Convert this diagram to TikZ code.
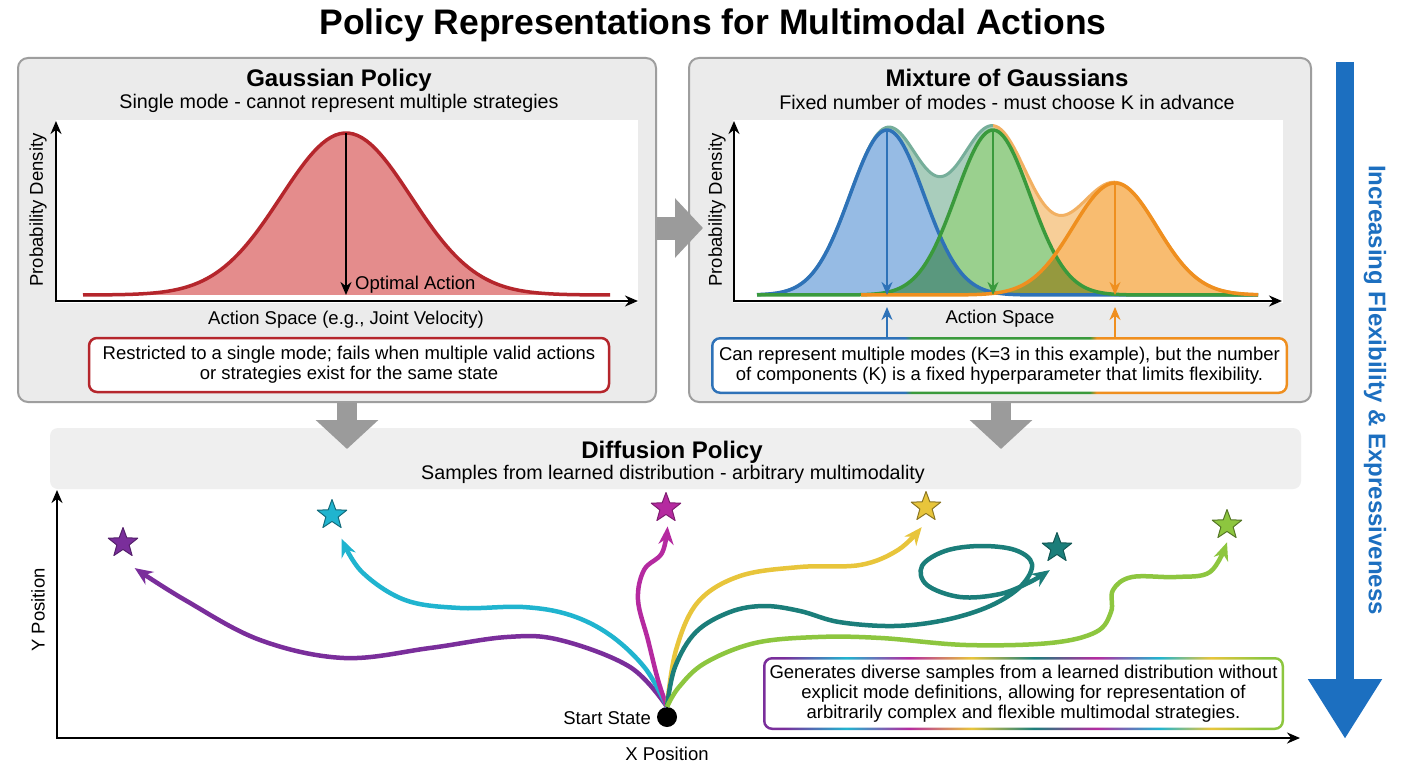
\documentclass[tikz,border=0pt]{standalone}
\usepackage{fontspec}
\setmainfont{Liberation Sans}
\usetikzlibrary{arrows.meta,shapes.geometric}
\definecolor{panelfill}{HTML}{EBEBEB}
\definecolor{panelline}{HTML}{9E9E9E}
\definecolor{bannerfill}{HTML}{EFEFEF}
\definecolor{blockgray}{HTML}{9B9B9B}
\definecolor{cred}{HTML}{B5262C}
\definecolor{credfill}{HTML}{E48C8C}
\definecolor{cblue}{HTML}{2E72B8}
\definecolor{cbluefill}{HTML}{96BBE4}
\definecolor{cgreen}{HTML}{3A9A3C}
\definecolor{cgreenfill}{HTML}{9AD08E}
\definecolor{corange}{HTML}{EF8F1F}
\definecolor{corangefill}{HTML}{F8BC70}
\definecolor{envteal}{HTML}{A9CDBC}
\definecolor{envorange}{HTML}{F7CE98}
\definecolor{envtealline}{HTML}{76AE9A}
\definecolor{envorangeline}{HTML}{F2B062}
\definecolor{cflow}{HTML}{1C6FC0}
\definecolor{cpurple}{HTML}{7A2E9B}
\definecolor{ccyan}{HTML}{20B4CF}
\definecolor{cmagenta}{HTML}{B52AA0}
\definecolor{cyellow}{HTML}{E8C53B}
\definecolor{cteal}{HTML}{1B7E7A}
\definecolor{clime}{HTML}{8DC63F}
\pgfdeclarehorizontalshading{mogedge}{100bp}{color(0bp)=(cblue); color(41.8bp)=(cblue); color(42.4bp)=(cgreen); color(57.8bp)=(cgreen); color(58.4bp)=(corange); color(100bp)=(corange)}
\pgfdeclarehorizontalshading{envband}{100bp}{color(0bp)=(envteal); color(48.3bp)=(envteal); color(48.8bp)=(envorange); color(100bp)=(envorange)}
\pgfdeclarehorizontalshading{rainbowedge}{100bp}{color(0bp)=(cpurple); color(27bp)=(cpurple); color(33bp)=(ccyan); color(39bp)=(cmagenta); color(45bp)=(cyellow); color(51bp)=(cteal); color(57bp)=(cmagenta); color(63bp)=(ccyan); color(68bp)=(cyellow); color(73bp)=(clime); color(100bp)=(clime)}
\begin{document}
\begin{tikzpicture}[x=1pt,y=-1pt,line join=round,>=Stealth,
  declare function={gr(\x)=162*exp(-min(((\x-346)/65)^2/2,9));
    gb(\x)=165*exp(-min(((\x-887)/37)^2/2,9));
    gg(\x)=165*exp(-min(((\x-993)/37)^2/2,9));
    go(\x)=112*exp(-min(((\x-1115)/42)^2/2,9));},
  panel/.style={draw=panelline,line width=2,fill=panelfill,rounded corners=10,minimum height=344},
  ttl/.style={font=\fontsize{35.5}{40}\selectfont\bfseries},
  head/.style={font=\fontsize{24}{28}\selectfont\bfseries},
  sub/.style={font=\fontsize{19.7}{23}\selectfont},
  lab/.style={font=\fontsize{18.5}{20}\selectfont,inner sep=0},
  note/.style={font=\fontsize{18.5}{20}\selectfont,align=center,inner sep=0},
  axis/.style={line width=2.5,-{Stealth[length=13pt,width=11pt]}},
  modearrow/.style={line width=2,-{Stealth[length=13pt,width=11pt]}},
  block/.style={blockgray,line width=20,-{Triangle[width=61pt,length=29pt]}},
  traj/.style={line width=4.5,-{Stealth[length=18pt,width=15pt]}},
  goal/.style={star,star points=5,star point ratio=2.4,minimum size=31,inner sep=0,outer sep=9,line width=1}]
\useasboundingbox (0,0) rectangle (1408,768);
\fill[white] (0,0) rectangle (1408,768);
\node[ttl] (title) at (713,25) {Policy Representations for Multimodal Actions};
\node[panel,minimum width=638] (gauss) at (337,230) {};
\node[panel,minimum width=622] (mog) at (1000,230) {};
\node[head] (gausshead) at (339,80) {Gaussian Policy};
\node[sub] (gausssub) at (339,103) {Single mode - cannot represent multiple strategies};
\node[head] (moghead) at (1007,78) {Mixture of Gaussians};
\node[sub] (mogsub) at (1007,102) {Fixed number of modes - must choose K in advance};
% single gaussian
\fill[white] (56,120) rectangle (638,303);
\fill[credfill] plot[domain=83:610,samples=120] (\x,{295-gr(\x)}) -- cycle;
\draw[cred,line width=3.5] plot[domain=83:610,samples=120] (\x,{295-gr(\x)});
\draw[modearrow] (346,133) -- (346,295);
\node[lab,anchor=west] (optlab) at (355,285) {Optimal Action};
\draw[axis] (56,302) -- (56,121);
\draw[axis] (55,301) -- (638,301);
\node[lab,rotate=90] (gaussy) at (38,210) {Probability Density};
\node[lab] (gaussx) at (346,320) {Action Space (e.g., Joint Velocity)};
\node[note,draw=cred,line width=2.5,fill=white,rounded corners=8,minimum width=520,minimum height=54] (gaussnote) at (349,365) {Restricted to a single mode; fails when multiple valid actions\\or strategies exist for the same state};
% mixture
\fill[white] (733,120) rectangle (1283,303);
\shade[shading=envband] plot[domain=757:1258,samples=200] (\x,{295-gb(\x)-gg(\x)-go(\x)}) -- plot[domain=1258:757,samples=200] (\x,{295-max(gb(\x),gg(\x),go(\x))}) -- cycle;
\begin{scope}
\clip (740,110) rectangle (993,300);
\draw[envtealline,line width=3] plot[domain=757:1258,samples=200] (\x,{295-gb(\x)-gg(\x)-go(\x)});
\end{scope}
\begin{scope}
\clip (993,110) rectangle (1270,300);
\draw[envorangeline,line width=3] plot[domain=757:1258,samples=200] (\x,{295-gb(\x)-gg(\x)-go(\x)});
\end{scope}
\begin{scope}[blend mode=multiply]
\fill[cbluefill] plot[domain=757:1258,samples=200] (\x,{295-gb(\x)}) -- cycle;
\fill[cgreenfill] plot[domain=757:1258,samples=200] (\x,{295-gg(\x)}) -- cycle;
\fill[corangefill] plot[domain=861:1258,samples=200] (\x,{295-go(\x)}) -- cycle;
\end{scope}
\draw[cblue,line width=3.5] plot[domain=757:1258,samples=200] (\x,{295-gb(\x)});
\draw[cgreen,line width=3.5] plot[domain=757:1258,samples=200] (\x,{295-gg(\x)});
\draw[corange,line width=3.5] plot[domain=861:1258,samples=200] (\x,{295-go(\x)});
\draw[modearrow,cblue] (887,131) -- (887,295);
\draw[modearrow,cgreen] (993,131) -- (993,295);
\draw[modearrow,corange] (1115,184) -- (1115,295);
\draw[axis] (734,302) -- (734,121);
\draw[axis] (733,301) -- (1282,301);
\node[lab,rotate=90] (mogy) at (717,210) {Probability Density};
\node[lab] (mogx) at (1000,319) {Action Space};
\shade[shading=mogedge,rounded corners=9] (711,337) rectangle (1288,394);
\fill[white,rounded corners=7] (713.5,339.5) rectangle (1285.5,391.5);
\node[note,minimum width=577,minimum height=57] (mognote) at (999.5,365.5) {Can represent multiple modes (K=3 in this example), but the number\\of components (K) is a fixed hyperparameter that limits flexibility.};
\coordinate (bluemode) at (887,307);
\coordinate (orangemode) at (1115,307);
\draw[modearrow,cblue] (mognote.north -| bluemode) -- (bluemode);
\draw[modearrow,corange] (mognote.north -| orangemode) -- (orangemode);
% diffusion
\node[fill=bannerfill,rounded corners=8,minimum width=1251,minimum height=61] (diff) at (675.5,458.5) {};
\node[head] (diffhead) at (672,452) {Diffusion Policy};
\node[sub] (diffsub) at (673,474) {Samples from learned distribution - arbitrary multimodality};
\coordinate (nextR) at (703,228);
\coordinate (downL) at (347,449);
\coordinate (downR) at (1001,449);
\draw[block,line width=23,-{Triangle[width=58pt,length=28pt]}] (gauss.east |- nextR) -- (nextR);
\draw[block] (gauss.south -| downL) -- (downL);
\draw[block] (mog.south -| downR) -- (downR);
\draw[axis] (57,739) -- (57,490);
\draw[axis] (56,738) -- (1300,738);
\node[lab,rotate=90] (ylab) at (38,610) {Y Position};
\node[lab] (xlab) at (667,754) {X Position};
\node[circle,fill=black,minimum size=20,inner sep=0] (start) at (667,717) {};
\node[lab,anchor=east] (startlab) at (651,718) {Start State};
\node[goal,fill=cpurple,draw=cpurple!70!black] (gpurple) at (123,543) {};
\node[goal,fill=ccyan,draw=ccyan!60!black] (gcyan) at (332,515) {};
\node[goal,fill=cmagenta,draw=cmagenta!70!black] (gmagenta) at (666,508) {};
\node[goal,fill=cyellow,draw=cyellow!60!black] (gyellow) at (926,507) {};
\node[goal,fill=cteal,draw=cteal!70!black] (gteal) at (1057,548) {};
\node[goal,fill=clime,draw=clime!60!black] (glime) at (1227,525) {};
\draw[traj,cpurple] plot[smooth,tension=0.6] coordinates {(start.north) (630,667) (560,640) (507,637) (430,648) (344,658) (260,640) (185,600) (gpurple.295)};
\draw[traj,ccyan] plot[smooth,tension=0.6] coordinates {(start.north) (645,668) (610,635) (570,615) (523,607) (460,608) (405,600) (362,572) (gcyan.292)};
\draw[traj,cmagenta] plot[smooth,tension=0.6] coordinates {(start.north) (658,680) (648,640) (638,600) (644,570) (662,553) (gmagenta.275)};
\draw[traj,cyellow] plot[smooth,tension=0.6] coordinates {(start.north) (676,650) (698,602) (740,576) (800,567) (860,565) (898,550) (gyellow.258)};
\draw[traj,cteal] plot[smooth,tension=0.6] coordinates {(start.north) (675,667) (696,632) (730,612) (764,606) (800,611) (839,622) (894,626) (945,620) (990,606) (1021,586) (1032,564) (1015,550) (980,546) (945,551) (922,566) (927,585) (960,597) (1000,594) (1030,582) (gteal.252)};
\draw[traj,clime] plot[smooth,tension=0.6] coordinates {(start.north) (679,687) (705,663) (755,643) (818,637) (881,638) (966,645) (1050,643) (1096,632) (1111,612) (1113,590) (1132,577) (1176,577) (1210,572) (glime.south)};
\shade[shading=rainbowedge,rounded corners=9] (763,657) rectangle (1284,730);
\fill[white,rounded corners=7] (765.5,659.5) rectangle (1281.5,727.5);
\node[note,minimum width=521,minimum height=73] (diffnote) at (1023.5,693.5) {Generates diverse samples from a learned distribution without\\explicit mode definitions, allowing for representation of\\arbitrarily complex and flexible multimodal strategies.};
% flexibility arrow
\coordinate (flowtop) at (1345,62);
\coordinate (flowtip) at (1345,739);
\draw[cflow,line width=18,-{Triangle[width=70pt,length=60pt]}] (flowtop) -- (flowtip);
\node[font=\fontsize{24}{28}\selectfont\bfseries,text=cflow,rotate=-90] (flowlab) at (1375,390) {Increasing Flexibility \& Expressiveness};
\end{tikzpicture}
\end{document}
